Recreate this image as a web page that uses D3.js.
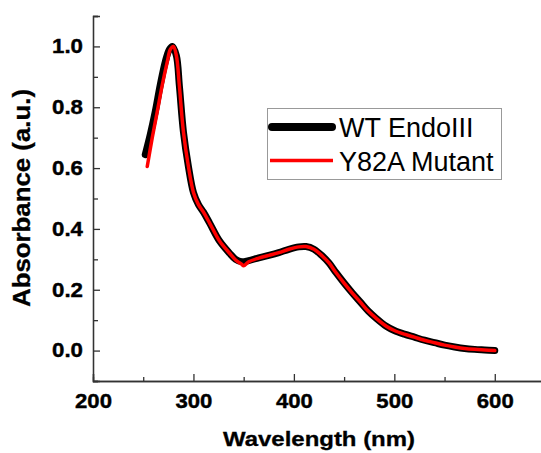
<!DOCTYPE html>
<html>
<head>
<meta charset="utf-8">
<script src="https://cdn.jsdelivr.net/npm/d3@7"></script>
<style>
  body { margin: 0; background: #fff; }
  text { font-family: "Liberation Sans", Arial, sans-serif; }
</style>
</head>
<body>
<svg width="541" height="453"></svg>
<script>
// wavelength (nm) / absorbance
var wtNm  = [252, 257, 262, 267, 272, 276, 279, 283, 286, 290, 295, 300, 305, 310, 316, 326, 336, 342, 348, 355, 365, 375, 385, 395, 405, 412, 420, 428, 435, 442, 450, 458, 466, 474, 482, 492, 500, 510, 520, 530, 540, 550, 560, 570, 580, 590, 600];
var wtAbs = [0.644, 0.71, 0.786, 0.874, 0.95, 0.99, 1.0, 0.97, 0.87, 0.72, 0.605, 0.52, 0.48, 0.455, 0.42, 0.36, 0.32, 0.30, 0.292, 0.296, 0.305, 0.313, 0.322, 0.333, 0.341, 0.342, 0.333, 0.312, 0.288, 0.256, 0.222, 0.19, 0.16, 0.13, 0.106, 0.08, 0.066, 0.054, 0.044, 0.034, 0.026, 0.018, 0.012, 0.007, 0.004, 0.002, 0.0];

var mutNm  = [254, 259, 264, 269, 274, 277, 280, 283, 286, 290, 295, 300, 305, 310, 316, 326, 336, 342, 348, 350, 355, 365, 375, 385, 395, 405, 412, 420, 428, 435, 442, 450, 458, 466, 474, 482, 492, 500, 510, 520, 530, 540, 550, 560, 570, 580, 590, 600];
var mutAbs = [0.605, 0.70, 0.786, 0.874, 0.95, 0.99, 1.0, 0.97, 0.87, 0.72, 0.605, 0.52, 0.48, 0.455, 0.42, 0.36, 0.32, 0.298, 0.284, 0.279, 0.292, 0.304, 0.313, 0.322, 0.333, 0.341, 0.342, 0.333, 0.312, 0.288, 0.256, 0.222, 0.19, 0.16, 0.13, 0.106, 0.08, 0.066, 0.054, 0.044, 0.034, 0.026, 0.018, 0.012, 0.007, 0.004, 0.002, 0.0];

var seriesNames = ["WT EndoIII", "Y82A Mutant"];
var xTicks = [200, 300, 400, 500, 600];
var yTicks = [0.0, 0.2, 0.4, 0.6, 0.8, 1.0];

var svg = d3.select("svg");
var x = d3.scaleLinear().domain([200, 650]).range([93, 545]);
var y = d3.scaleLinear().domain([-0.1, 1.1]).range([381, 16]);

// minor ticks
svg.append("g").attr("transform", "translate(0,381)")
  .call(d3.axisBottom(x).tickValues([250, 350, 450, 550, 650]).tickSize(-4).tickFormat(""));
svg.append("g").attr("transform", "translate(93,0)")
  .call(d3.axisLeft(y).tickValues([-0.1, 0.1, 0.3, 0.5, 0.7, 0.9, 1.1]).tickSize(-5).tickFormat(""));

// major ticks
var xMaj = svg.append("g").attr("transform", "translate(0,381)")
  .call(d3.axisBottom(x).tickValues(xTicks).tickSize(-7).tickPadding(13).tickFormat(d3.format("d")));
var yMaj = svg.append("g").attr("transform", "translate(93,0)")
  .call(d3.axisLeft(y).tickValues(yTicks).tickSize(-7).tickPadding(10).tickFormat(d3.format(".1f")));

svg.selectAll("g path.domain, g line").attr("stroke", "#333").attr("stroke-width", 1.3);
svg.selectAll("g text")
  .attr("font-size", 20).attr("font-weight", "bold").attr("fill", "#000")
  .attr("stroke", "#000").attr("stroke-width", 0.4)
  .attr("font-family", "Liberation Sans, Arial, sans-serif")
  .attr("lengthAdjust", "spacingAndGlyphs");
// the original labels are wider than plain bold sans
xMaj.selectAll("text").attr("textLength", 37);
yMaj.selectAll("text").attr("textLength", 31);

// axis titles
svg.append("text")
  .attr("x", 319).attr("y", 446)
  .attr("text-anchor", "middle")
  .attr("font-size", 21).attr("font-weight", "bold")
  .attr("stroke", "#000").attr("stroke-width", 0.3)
  .attr("textLength", 192).attr("lengthAdjust", "spacingAndGlyphs")
  .text("Wavelength (nm)");

svg.append("text")
  .attr("transform", "translate(30,198) rotate(-90)")
  .attr("text-anchor", "middle")
  .attr("font-size", 23).attr("font-weight", "bold")
  .attr("stroke", "#000").attr("stroke-width", 0.3)
  .attr("textLength", 218).attr("lengthAdjust", "spacingAndGlyphs")
  .text("Absorbance (a.u.)");

// curves
var line = d3.line()
  .x(function(d) { return x(d[0]); })
  .y(function(d) { return y(d[1]); })
  .curve(d3.curveCatmullRom);

var wt = d3.zip(wtNm, wtAbs);
var mut = d3.zip(mutNm, mutAbs);

svg.append("path").datum(wt)
  .attr("d", line)
  .attr("fill", "none").attr("stroke", "#000")
  .attr("stroke-width", 7).attr("stroke-linecap", "round").attr("stroke-linejoin", "round");

svg.append("path").datum(mut)
  .attr("d", line)
  .attr("fill", "none").attr("stroke", "#ff0000")
  .attr("stroke-width", 3.5).attr("stroke-linecap", "round").attr("stroke-linejoin", "round");

// legend
var lg = svg.append("g");
lg.append("rect")
  .attr("x", 267.5).attr("y", 108.5).attr("width", 234).attr("height", 71)
  .attr("fill", "#fff").attr("stroke", "#999").attr("stroke-width", 1);
lg.append("line")
  .attr("x1", 272).attr("x2", 332).attr("y1", 127).attr("y2", 127)
  .attr("stroke", "#000").attr("stroke-width", 8).attr("stroke-linecap", "round");
lg.append("line")
  .attr("x1", 270).attr("x2", 333).attr("y1", 160.5).attr("y2", 160.5)
  .attr("stroke", "#ff0000").attr("stroke-width", 3.5);
lg.selectAll("text.leg")
  .data(seriesNames)
  .enter().append("text")
  .attr("class", "leg")
  .attr("x", 339)
  .attr("y", function(d, i) { return 137 + i * 33.5; })
  .attr("font-size", 27)
  .attr("fill", "#000")
  .text(function(d) { return d; });
</script>
</body>
</html>
